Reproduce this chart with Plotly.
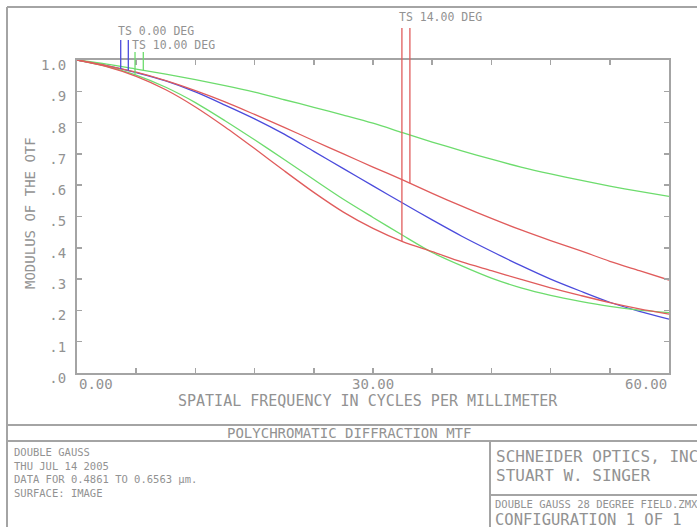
import numpy as np
import plotly.graph_objects as go

# ---------------- data ----------------
freq = [0, 3, 6, 9, 12, 15, 18, 21, 24, 27, 30, 33, 36, 39, 42, 45, 48, 51, 54, 57, 60]

mtf_0deg_ts = [1.000, 0.982, 0.960, 0.933, 0.898, 0.856, 0.812, 0.763, 0.708, 0.653, 0.598,
               0.543, 0.489, 0.437, 0.389, 0.343, 0.300, 0.262, 0.226, 0.197, 0.172]
mtf_10deg_s = [1.000, 0.987, 0.971, 0.955, 0.937, 0.918, 0.897, 0.873, 0.849, 0.824, 0.798,
               0.768, 0.738, 0.710, 0.683, 0.658, 0.636, 0.616, 0.597, 0.580, 0.564]
mtf_10deg_t = [1.000, 0.980, 0.952, 0.913, 0.864, 0.806, 0.745, 0.682, 0.618, 0.555, 0.497,
               0.440, 0.385, 0.342, 0.303, 0.272, 0.248, 0.229, 0.213, 0.201, 0.193]
mtf_14deg_s = [1.000, 0.982, 0.961, 0.934, 0.902, 0.866, 0.826, 0.785, 0.742, 0.700, 0.658,
               0.617, 0.574, 0.533, 0.494, 0.457, 0.423, 0.391, 0.357, 0.327, 0.297]
mtf_14deg_t = [1.000, 0.979, 0.948, 0.905, 0.850, 0.786, 0.717, 0.646, 0.577, 0.514, 0.462,
               0.420, 0.388, 0.355, 0.327, 0.299, 0.272, 0.248, 0.225, 0.205, 0.188]

ts_labels = ["TS 0.00 DEG", "TS 10.00 DEG", "TS 14.00 DEG"]
ts_tan_freq = [4.43, 5.88, 32.93]
ts_sag_freq = [5.20, 6.72, 33.74]

x_tick_vals = [0, 6, 12, 18, 24, 30, 36, 42, 48, 54, 60]
x_label_vals = [0, 30, 60]
x_label_text = ["0.00", "30.00", "60.00"]
y_tick_vals = [0, 0.1, 0.2, 0.3, 0.4, 0.5, 0.6, 0.7, 0.8, 0.9, 1.0]
y_tick_text = [".0", ".1", ".2", ".3", ".4", ".5", ".6", ".7", ".8", ".9", "1.0"]

x_title = "SPATIAL FREQUENCY IN CYCLES PER MILLIMETER"
y_title = "MODULUS OF THE OTF"
plot_title = "POLYCHROMATIC DIFFRACTION MTF"
info_lines = ["DOUBLE GAUSS", "THU JUL 14 2005", "DATA FOR 0.4861 TO 0.6563 µm.", "SURFACE: IMAGE"]
company_lines = ["SCHNEIDER OPTICS, INC.", "STUART W. SINGER"]
file_line = "DOUBLE GAUSS 28 DEGREE FIELD.ZMX"
config_line = "CONFIGURATION 1 OF 1"

# ---------------- styling / layout ----------------
W, H = 697, 527
L, R, T, B = 77, 669, 60, 373
FONT = "DejaVu Sans Mono"
TXT = "#929292"
FRAME = "#a4a4a4"
BLUE = "#4b4bdc"
GREEN = "#6ddc6d"
RED = "#e05c5c"


def px(x):
    return (x - L) / (R - L)


def py(y):
    return (B - y) / (B - T)


fig = go.Figure()
curves = [
    (mtf_0deg_ts, BLUE),
    (mtf_10deg_s, GREEN),
    (mtf_10deg_t, GREEN),
    (mtf_14deg_s, RED),
    (mtf_14deg_t, RED),
]
for ys, col in curves:
    fig.add_trace(go.Scatter(x=freq, y=ys, mode="lines",
                             line=dict(color=col, width=1.3, shape="spline", smoothing=0.8),
                             showlegend=False, hoverinfo="skip"))

shapes = []
annotations = []

# TS marker lines (paper y == data y because range [0,1] fills the domain)
tan_curves = [mtf_0deg_ts, mtf_10deg_t, mtf_14deg_t]
sag_curves = [mtf_0deg_ts, mtf_10deg_s, mtf_14deg_s]
marker_cols = [BLUE, GREEN, RED]
line_tops = [py(40), py(52), py(28)]
label_ys = [py(31), py(45), py(17)]
for i in range(3):
    for f, cv in ((ts_tan_freq[i], tan_curves[i]), (ts_sag_freq[i], sag_curves[i])):
        y0 = float(np.interp(f, freq, cv))
        shapes.append(dict(type="line", xref="x", yref="paper", x0=f, x1=f,
                           y0=y0, y1=line_tops[i],
                           line=dict(color=marker_cols[i], width=1.3)))
    annotations.append(dict(text=ts_labels[i], xref="x", yref="paper", x=ts_tan_freq[i],
                            y=label_ys[i], xanchor="left", yanchor="middle", xshift=-4,
                            showarrow=False, borderpad=0,
                            font=dict(family=FONT, size=11.5, color=TXT)))

# x tick labels
anchors = ["left", "center", "right"]
for v, t, a in zip(x_label_vals, x_label_text, anchors):
    annotations.append(dict(text=t, xref="x", yref="paper", x=v, y=py(384),
                            xanchor=a, yanchor="middle", showarrow=False,
                            font=dict(family=FONT, size=14, color=TXT)))

# axis titles
annotations.append(dict(text=x_title, xref="paper", yref="paper", x=px(368), y=py(401),
                        xanchor="center", yanchor="middle", showarrow=False,
                        font=dict(family=FONT, size=15, color=TXT)))
annotations.append(dict(text=y_title, xref="paper", yref="paper", x=px(30), y=py(213),
                        xanchor="center", yanchor="middle", textangle=-90, showarrow=False,
                        font=dict(family=FONT, size=14, color=TXT)))

# bottom panel
annotations.append(dict(text=plot_title, xref="paper", yref="paper", x=px(349), y=py(433),
                        xanchor="center", yanchor="middle", showarrow=False,
                        font=dict(family=FONT, size=14, color=TXT)))
annotations.append(dict(text="<br>".join(info_lines), xref="paper", yref="paper",
                        x=px(12), y=py(444), xanchor="left", yanchor="top", align="left",
                        showarrow=False, font=dict(family=FONT, size=10.5, color=TXT)))
annotations.append(dict(text=company_lines[0], xref="paper", yref="paper", x=px(494), y=py(456),
                        xanchor="left", yanchor="middle", showarrow=False,
                        font=dict(family=FONT, size=16, color=TXT)))
annotations.append(dict(text=company_lines[1], xref="paper", yref="paper", x=px(494), y=py(475),
                        xanchor="left", yanchor="middle", showarrow=False,
                        font=dict(family=FONT, size=16, color=TXT)))
annotations.append(dict(text=file_line, xref="paper", yref="paper", x=px(494), y=py(504),
                        xanchor="left", yanchor="middle", showarrow=False, borderpad=0,
                        font=dict(family=FONT, size=10.5, color=TXT)))
annotations.append(dict(text=config_line, xref="paper", yref="paper", x=px(494), y=py(520),
                        xanchor="left", yanchor="middle", showarrow=False, borderpad=0,
                        font=dict(family=FONT, size=15.5, color=TXT)))


def pline(x0, y0, x1, y1):
    shapes.append(dict(type="line", xref="paper", yref="paper",
                       x0=px(x0), y0=py(y0), x1=px(x1), y1=py(y1),
                       line=dict(color=FRAME, width=2)))


pline(7, 7, 7, 540)        # outer left border
pline(7, 7, 710, 7)        # outer top border
pline(7, 425, 710, 425)    # top of title box
pline(7, 441, 710, 441)    # below title
pline(490, 441, 490, 540)  # vertical split
pline(490, 495, 710, 495)  # right box split

axis_common = dict(showline=True, linecolor=FRAME, linewidth=2, mirror="ticks",
                   ticks="inside", ticklen=5, tickcolor=FRAME, tickwidth=1.5,
                   showgrid=False, zeroline=False)

fig.update_layout(
    width=W, height=H,
    margin=dict(l=L, r=W - R, t=T, b=H - B, pad=0),
    paper_bgcolor="white", plot_bgcolor="white",
    xaxis=dict(range=[0, 60], tickvals=x_tick_vals, showticklabels=False, **axis_common),
    yaxis=dict(range=[0, 1], tickvals=y_tick_vals, ticktext=y_tick_text,
               tickfont=dict(family=FONT, size=14, color=TXT),
               ticklabelstandoff=6, ticklabelshift=5, **axis_common),
    shapes=shapes,
    annotations=annotations,
    showlegend=False,
)

fig.write_html("out.html", config={"displayModeBar": False, "staticPlot": True},
               post_script="document.body.style.margin='0px';document.body.style.overflow='hidden';")
